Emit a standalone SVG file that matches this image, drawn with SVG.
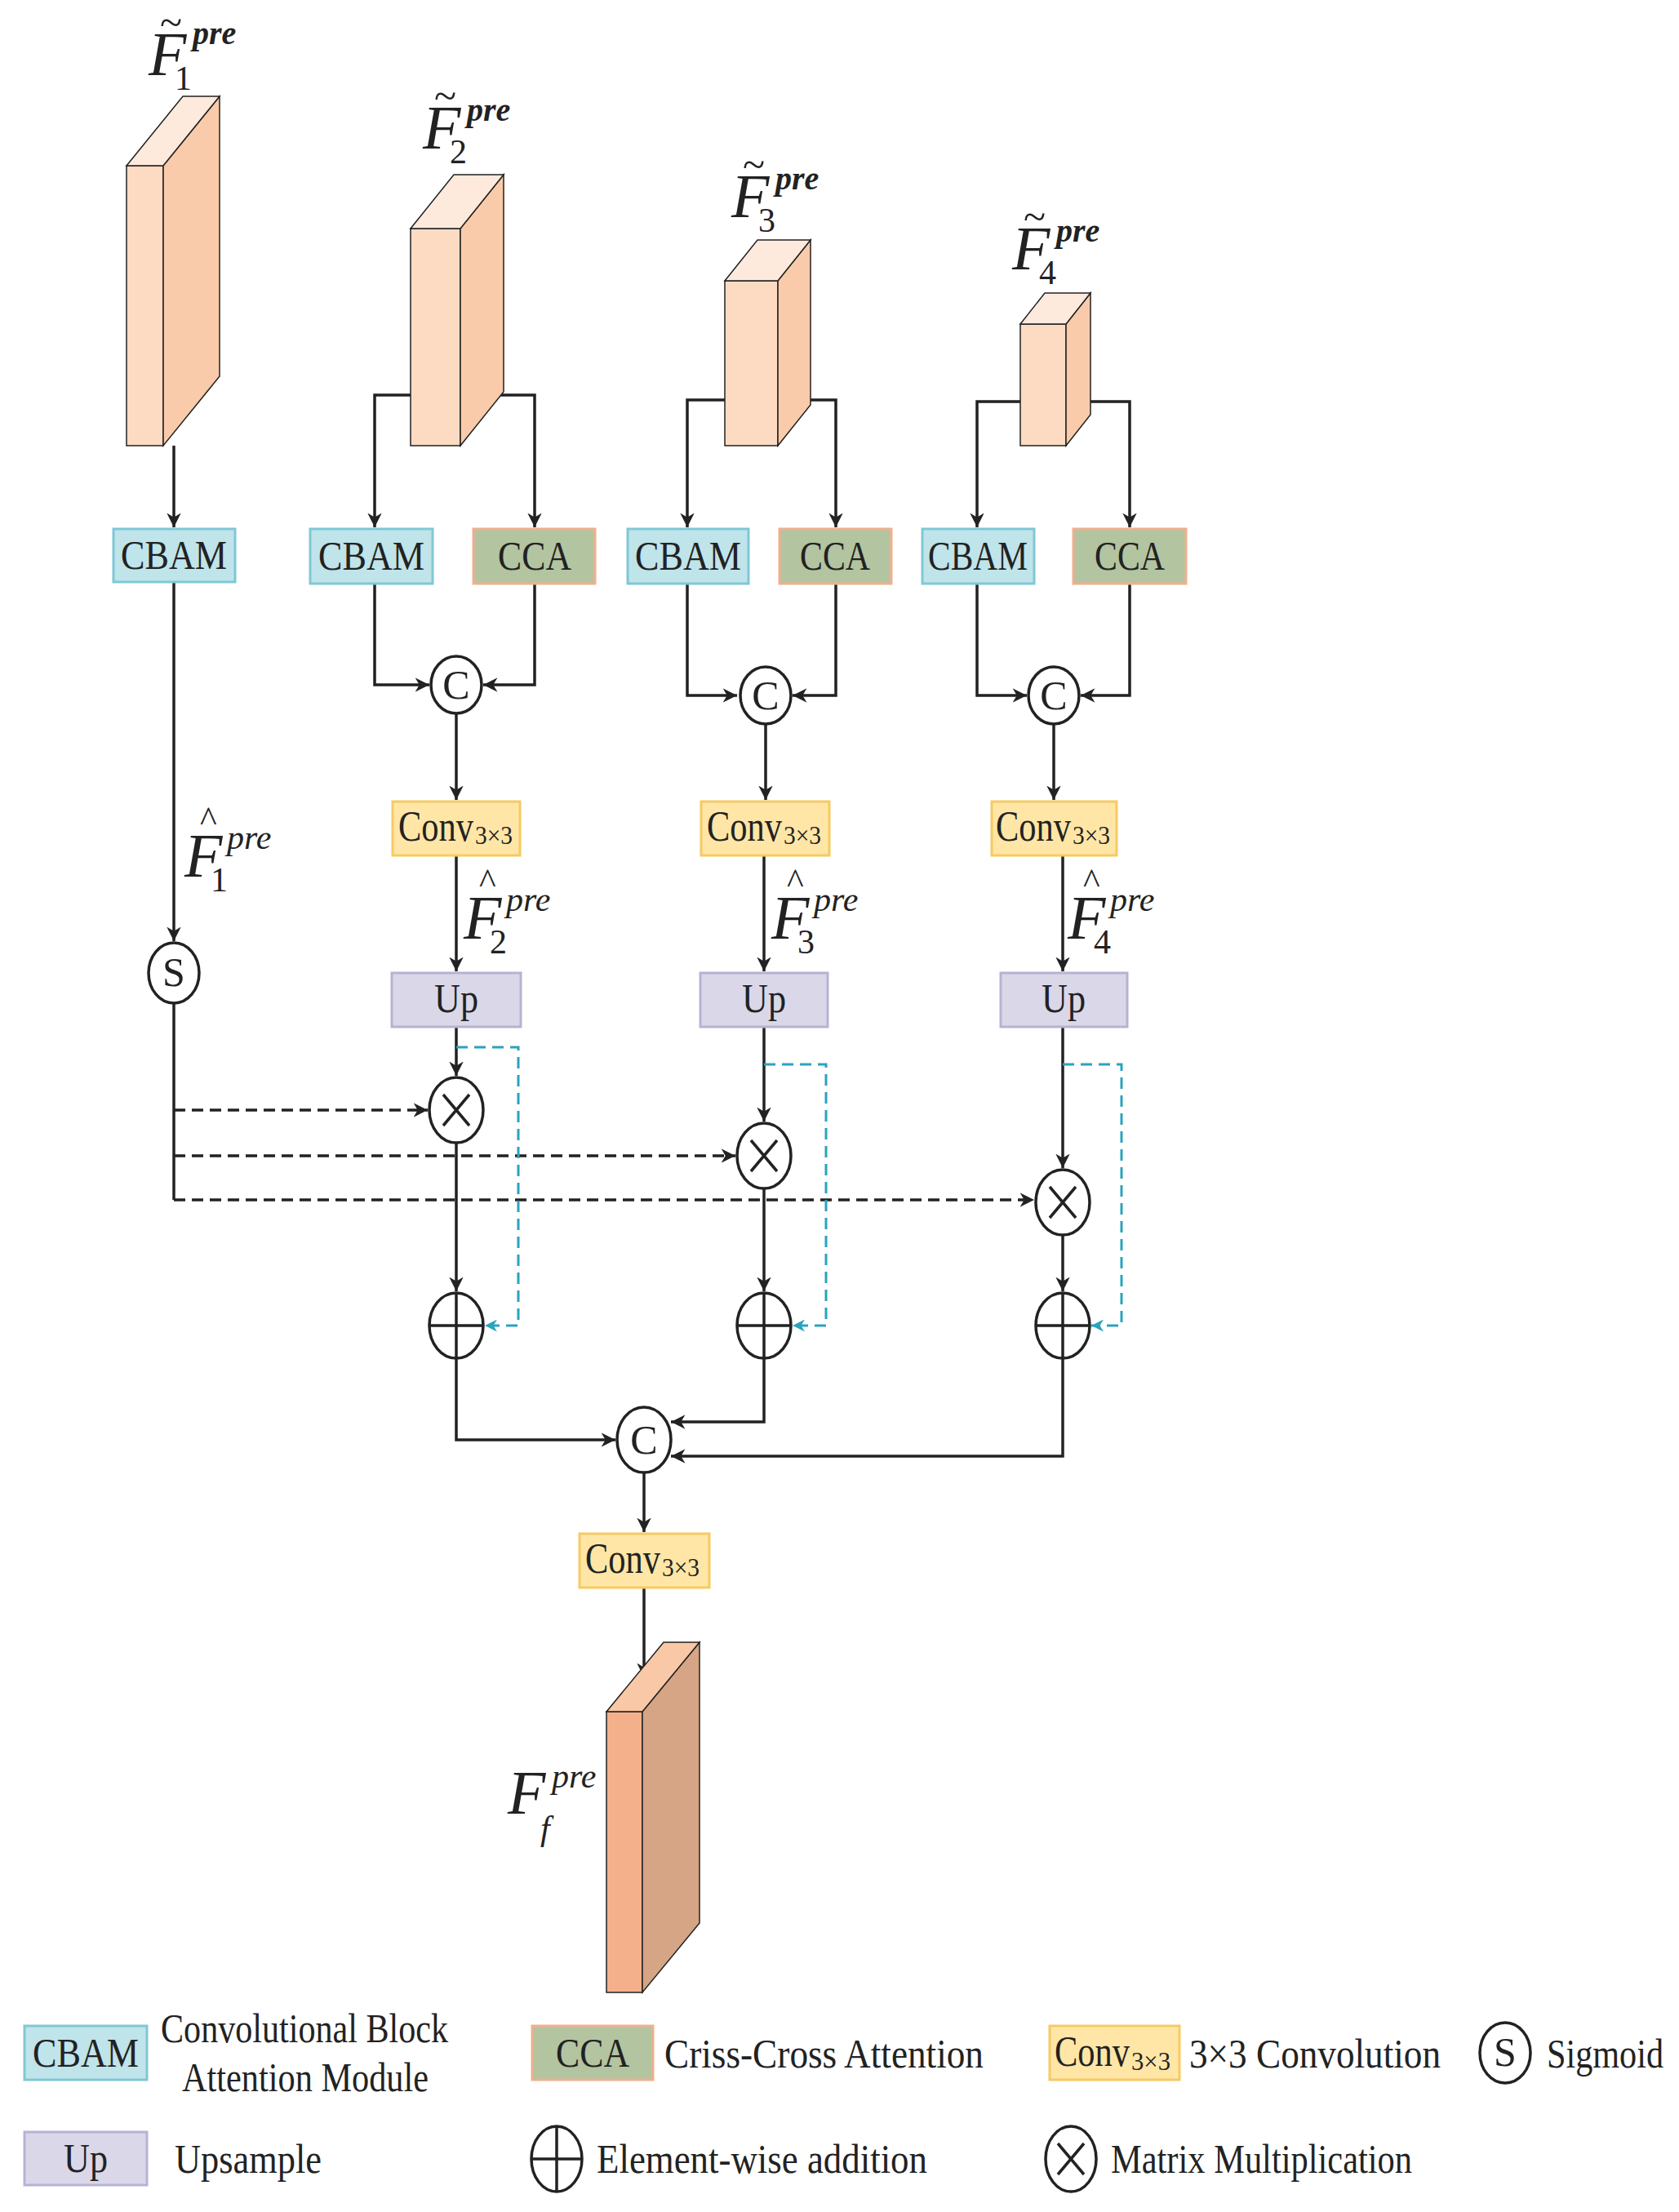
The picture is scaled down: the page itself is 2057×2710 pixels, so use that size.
<svg xmlns="http://www.w3.org/2000/svg" width="2057" height="2710" viewBox="0 0 2057 2710">
<style>
text{font-family:"Liberation Serif","Times New Roman",serif;fill:#222}
.bt{font-size:50px;text-anchor:middle}
.lt{font-size:50px}
.it{font-style:italic}
.ln{fill:none;stroke:#222;stroke-width:3.5}
.ds{fill:none;stroke:#222;stroke-width:3.5;stroke-dasharray:14 8}
.cy{fill:none;stroke:#2aa3bd;stroke-width:3;stroke-dasharray:14 8}
.cir{fill:#fff;stroke:#222;stroke-width:3.5}
.cbam{fill:#bfe4ea;stroke:#80c7d6;stroke-width:3}
.cca{fill:#b3c4a0;stroke:#f0b08f;stroke-width:3}
.conv{fill:#ffe6a6;stroke:#f6ca62;stroke-width:3}
.up{fill:#dad8e8;stroke:#b7b2d3;stroke-width:3}
.fr{fill:#fddbc3;stroke:#222;stroke-width:1.5}
.sd{fill:#facbaa;stroke:#222;stroke-width:1.5}
.tp{fill:#feeadd;stroke:#222;stroke-width:1.5}
</style>
<defs>
<marker id="a" viewBox="0 0 10 10" refX="10" refY="5" markerWidth="5" markerHeight="5" orient="auto-start-reverse"><path d="M0,0 L10,5 L0,10 L3,5z" fill="#222"/></marker>
<marker id="ac" viewBox="0 0 10 10" refX="10" refY="5" markerWidth="5" markerHeight="5" orient="auto"><path d="M0,0 L10,5 L0,10 L3,5z" fill="#2aa3bd"/></marker>
</defs>

<g id="connectors">
<path class="ln" d="M213,546 V646" marker-end="url(#a)"/>
<path class="ln" d="M213,713 V1153" marker-end="url(#a)"/>
<path class="ln" d="M213,1229 V1470"/>
<path class="ds" d="M213,1360 H524" marker-end="url(#a)"/>
<path class="ds" d="M213,1416 H901" marker-end="url(#a)"/>
<path class="ds" d="M213,1470 H1267" marker-end="url(#a)"/>
<path class="ln" d="M503,484 H459 V646" marker-end="url(#a)"/>
<path class="ln" d="M610,484 H655 V646" marker-end="url(#a)"/>
<path class="ln" d="M459,715 V839 H526" marker-end="url(#a)"/>
<path class="ln" d="M655,715 V839 H592" marker-end="url(#a)"/>
<path class="ln" d="M559,874 V980" marker-end="url(#a)"/>
<path class="ln" d="M559,1048 V1190" marker-end="url(#a)"/>
<path class="ln" d="M559,1258 V1318" marker-end="url(#a)"/>
<path class="ln" d="M559,1400 V1582" marker-end="url(#a)"/>
<path class="cy" d="M559,1283 H635 V1624 H594" marker-end="url(#ac)"/>
<path class="ln" d="M559,1664 V1764 H754" marker-end="url(#a)"/>
<path class="ln" d="M888,490 H842 V646" marker-end="url(#a)"/>
<path class="ln" d="M985,490 H1024 V646" marker-end="url(#a)"/>
<path class="ln" d="M842,715 V852 H903" marker-end="url(#a)"/>
<path class="ln" d="M1024,715 V852 H971" marker-end="url(#a)"/>
<path class="ln" d="M938,887 V980" marker-end="url(#a)"/>
<path class="ln" d="M936,1048 V1190" marker-end="url(#a)"/>
<path class="ln" d="M936,1258 V1374" marker-end="url(#a)"/>
<path class="ln" d="M936,1456 V1582" marker-end="url(#a)"/>
<path class="cy" d="M936,1304 H1012 V1624 H971" marker-end="url(#ac)"/>
<path class="ln" d="M936,1664 V1742 H822" marker-end="url(#a)"/>
<path class="ln" d="M1250,492 H1197 V646" marker-end="url(#a)"/>
<path class="ln" d="M1330,492 H1384 V646" marker-end="url(#a)"/>
<path class="ln" d="M1197,715 V852 H1258" marker-end="url(#a)"/>
<path class="ln" d="M1384,715 V852 H1324" marker-end="url(#a)"/>
<path class="ln" d="M1291,887 V980" marker-end="url(#a)"/>
<path class="ln" d="M1302,1048 V1190" marker-end="url(#a)"/>
<path class="ln" d="M1302,1258 V1431" marker-end="url(#a)"/>
<path class="ln" d="M1302,1513 V1582" marker-end="url(#a)"/>
<path class="cy" d="M1302,1304 H1374 V1624 H1337" marker-end="url(#ac)"/>
<path class="ln" d="M1302,1664 V1784 H822" marker-end="url(#a)"/>
<path class="ln" d="M789,1804 V1877" marker-end="url(#a)"/>
<path class="ln" d="M789,1945 V2055" marker-end="url(#a)"/>
</g>

<g id="block1">
<polygon class="fr" points="155,203 200,203 200,546 155,546"/>
<polygon class="sd" points="200,203 269,118 269,461 200,546"/>
<polygon class="tp" points="155,203 224,118 269,118 200,203"/>
</g>
<g id="block2">
<polygon class="fr" points="503,280 564,280 564,546 503,546"/>
<polygon class="sd" points="564,280 617,214 617,480 564,546"/>
<polygon class="tp" points="503,280 556,214 617,214 564,280"/>
</g>
<g id="block3">
<polygon class="fr" points="888,344 953,344 953,546 888,546"/>
<polygon class="sd" points="953,344 993,294 993,496 953,546"/>
<polygon class="tp" points="888,344 928,294 993,294 953,344"/>
</g>
<g id="block4">
<polygon class="fr" points="1250,397 1306,397 1306,546 1250,546"/>
<polygon class="sd" points="1306,397 1336,359 1336,508 1306,546"/>
<polygon class="tp" points="1250,397 1280,359 1336,359 1306,397"/>
</g>
<g id="blockf">
<polygon points="743,2097 787,2097 787,2441 743,2441" fill="#f4b08a" stroke="#222" stroke-width="1.5"/>
<polygon points="787,2097 857,2012 857,2356 787,2441" fill="#d6a586" stroke="#222" stroke-width="1.5"/>
<polygon points="743,2097 813,2012 857,2012 787,2097" fill="#f9c8a6" stroke="#222" stroke-width="1.5"/>
</g>

<g id="labels">
<text class="it" x="182" y="92" font-size="76">F</text><text x="196" y="44" font-size="50">~</text><text class="it" x="236" y="54" font-size="40" font-weight="bold">pre</text><text x="214" y="110" font-size="42">1</text>
<text class="it" x="518" y="182" font-size="76">F</text><text x="532" y="134" font-size="50">~</text><text class="it" x="572" y="148" font-size="40" font-weight="bold">pre</text><text x="551" y="200" font-size="42">2</text>
<text class="it" x="896" y="266" font-size="76">F</text><text x="910" y="218" font-size="50">~</text><text class="it" x="950" y="232" font-size="40" font-weight="bold">pre</text><text x="929" y="284" font-size="42">3</text>
<text class="it" x="1240" y="330" font-size="76">F</text><text x="1254" y="282" font-size="50">~</text><text class="it" x="1294" y="296" font-size="40" font-weight="bold">pre</text><text x="1273" y="348" font-size="42">4</text>
<text class="it" x="226" y="1074" font-size="76">F</text><text x="245" y="1018" font-size="44">^</text><text class="it" x="278" y="1040" font-size="42">pre</text><text x="258" y="1092" font-size="42">1</text>
<text class="it" x="568" y="1150" font-size="76">F</text><text x="587" y="1094" font-size="44">^</text><text class="it" x="620" y="1116" font-size="42">pre</text><text x="600" y="1168" font-size="42">2</text>
<text class="it" x="945" y="1150" font-size="76">F</text><text x="964" y="1094" font-size="44">^</text><text class="it" x="997" y="1116" font-size="42">pre</text><text x="977" y="1168" font-size="42">3</text>
<text class="it" x="1308" y="1150" font-size="76">F</text><text x="1327" y="1094" font-size="44">^</text><text class="it" x="1360" y="1116" font-size="42">pre</text><text x="1340" y="1168" font-size="42">4</text>
<text class="it" x="622" y="2222" font-size="76">F</text><text class="it" x="676" y="2190" font-size="42">pre</text><text class="it" x="662" y="2254" font-size="42">f</text>
</g>

<g id="cbam1"><rect class="cbam" x="139" y="648" width="149" height="65"/><text class="bt" x="213" y="697" textLength="130" lengthAdjust="spacingAndGlyphs">CBAM</text></g>
<g id="cbam2"><rect class="cbam" x="380" y="648" width="150" height="67"/><text class="bt" x="455" y="698" textLength="130" lengthAdjust="spacingAndGlyphs">CBAM</text></g>
<g id="cca2"><rect class="cca" x="580" y="648" width="149" height="67"/><text class="bt" x="655" y="698" textLength="90" lengthAdjust="spacingAndGlyphs">CCA</text></g>
<g id="cbam3"><rect class="cbam" x="769" y="648" width="148" height="67"/><text class="bt" x="843" y="698" textLength="130" lengthAdjust="spacingAndGlyphs">CBAM</text></g>
<g id="cca3"><rect class="cca" x="955" y="648" width="137" height="67"/><text class="bt" x="1023" y="698" textLength="86" lengthAdjust="spacingAndGlyphs">CCA</text></g>
<g id="cbam4"><rect class="cbam" x="1130" y="648" width="137" height="67"/><text class="bt" x="1198" y="698" textLength="122" lengthAdjust="spacingAndGlyphs">CBAM</text></g>
<g id="cca4"><rect class="cca" x="1315" y="648" width="138" height="67"/><text class="bt" x="1384" y="698" textLength="86" lengthAdjust="spacingAndGlyphs">CCA</text></g>

<g id="c2"><ellipse class="cir" cx="559" cy="839" rx="31" ry="35"/><text class="bt" x="559" y="856" font-size="46">C</text></g>
<g id="c3"><ellipse class="cir" cx="938" cy="852" rx="31" ry="35"/><text class="bt" x="938" y="869" font-size="46">C</text></g>
<g id="c4"><ellipse class="cir" cx="1291" cy="852" rx="31" ry="35"/><text class="bt" x="1291" y="869" font-size="46">C</text></g>

<g id="conv2"><rect class="conv" x="481" y="982" width="156" height="66"/><text x="488" y="1030" font-size="52" textLength="92" lengthAdjust="spacingAndGlyphs">Conv</text><text x="582" y="1034" font-size="32" textLength="46" lengthAdjust="spacingAndGlyphs">3×3</text></g>
<g id="conv3"><rect class="conv" x="859" y="982" width="157" height="66"/><text x="866" y="1030" font-size="52" textLength="92" lengthAdjust="spacingAndGlyphs">Conv</text><text x="960" y="1034" font-size="32" textLength="46" lengthAdjust="spacingAndGlyphs">3×3</text></g>
<g id="conv4"><rect class="conv" x="1215" y="982" width="153" height="66"/><text x="1220" y="1030" font-size="52" textLength="92" lengthAdjust="spacingAndGlyphs">Conv</text><text x="1314" y="1034" font-size="32" textLength="46" lengthAdjust="spacingAndGlyphs">3×3</text></g>

<g id="s1"><ellipse class="cir" cx="213" cy="1192" rx="31" ry="37"/><text class="bt" x="213" y="1208" font-size="44">S</text></g>

<g id="up2"><rect class="up" x="480" y="1192" width="158" height="66"/><text class="bt" x="559" y="1240" textLength="54" lengthAdjust="spacingAndGlyphs">Up</text></g>
<g id="up3"><rect class="up" x="858" y="1192" width="156" height="66"/><text class="bt" x="936" y="1240" textLength="54" lengthAdjust="spacingAndGlyphs">Up</text></g>
<g id="up4"><rect class="up" x="1226" y="1192" width="155" height="66"/><text class="bt" x="1303" y="1240" textLength="54" lengthAdjust="spacingAndGlyphs">Up</text></g>

<g id="x2"><ellipse class="cir" cx="559" cy="1360" rx="33" ry="40"/><path class="ln" d="M543,1341 L575,1379 M575,1341 L543,1379"/></g>
<g id="x3"><ellipse class="cir" cx="936" cy="1416" rx="33" ry="40"/><path class="ln" d="M920,1397 L952,1435 M952,1397 L920,1435"/></g>
<g id="x4"><ellipse class="cir" cx="1302" cy="1473" rx="33" ry="40"/><path class="ln" d="M1286,1454 L1318,1492 M1318,1454 L1286,1492"/></g>

<g id="p2"><ellipse class="cir" cx="559" cy="1624" rx="33" ry="40"/><path class="ln" d="M526,1624 H592 M559,1584 V1664"/></g>
<g id="p3"><ellipse class="cir" cx="936" cy="1624" rx="33" ry="40"/><path class="ln" d="M903,1624 H969 M936,1584 V1664"/></g>
<g id="p4"><ellipse class="cir" cx="1302" cy="1624" rx="33" ry="40"/><path class="ln" d="M1269,1624 H1335 M1302,1584 V1664"/></g>

<g id="cf"><ellipse class="cir" cx="789" cy="1764" rx="33" ry="40"/><text class="bt" x="789" y="1781" font-size="46">C</text></g>
<g id="convf"><rect class="conv" x="710" y="1879" width="159" height="66"/><text x="717" y="1927" font-size="52" textLength="92" lengthAdjust="spacingAndGlyphs">Conv</text><text x="811" y="1931" font-size="32" textLength="46" lengthAdjust="spacingAndGlyphs">3×3</text></g>

<g id="legend">
<rect class="cbam" x="30" y="2482" width="150" height="66"/><text class="bt" x="105" y="2532" textLength="130" lengthAdjust="spacingAndGlyphs">CBAM</text>
<text class="lt" x="197" y="2502" textLength="352" lengthAdjust="spacingAndGlyphs">Convolutional Block</text>
<text class="lt" x="223" y="2562" textLength="302" lengthAdjust="spacingAndGlyphs">Attention Module</text>
<rect class="cca" x="652" y="2482" width="148" height="66"/><text class="bt" x="726" y="2532" textLength="90" lengthAdjust="spacingAndGlyphs">CCA</text>
<text class="lt" x="814" y="2533" textLength="391" lengthAdjust="spacingAndGlyphs">Criss-Cross Attention</text>
<rect class="conv" x="1286" y="2482" width="159" height="66"/><text x="1292" y="2531" font-size="52" textLength="92" lengthAdjust="spacingAndGlyphs">Conv</text><text x="1386" y="2536" font-size="32" textLength="48" lengthAdjust="spacingAndGlyphs">3×3</text>
<text class="lt" x="1457" y="2533" textLength="308" lengthAdjust="spacingAndGlyphs">3×3 Convolution</text>
<ellipse class="cir" cx="1844" cy="2515" rx="31" ry="37"/><text class="bt" x="1844" y="2531" font-size="44">S</text>
<text class="lt" x="1895" y="2533" textLength="143" lengthAdjust="spacingAndGlyphs">Sigmoid</text>
<rect class="up" x="30" y="2612" width="150" height="65"/><text class="bt" x="105" y="2661" textLength="54" lengthAdjust="spacingAndGlyphs">Up</text>
<text class="lt" x="214" y="2662" textLength="180" lengthAdjust="spacingAndGlyphs">Upsample</text>
<ellipse class="cir" cx="682" cy="2645" rx="31" ry="40"/><path class="ln" d="M651,2645 H713 M682,2605 V2685"/>
<text class="lt" x="731" y="2662" textLength="405" lengthAdjust="spacingAndGlyphs">Element-wise addition</text>
<ellipse class="cir" cx="1312" cy="2645" rx="31" ry="40"/><path class="ln" d="M1296,2626 L1328,2664 M1328,2626 L1296,2664"/>
<text class="lt" x="1361" y="2662" textLength="369" lengthAdjust="spacingAndGlyphs">Matrix Multiplication</text>
</g>
</svg>
